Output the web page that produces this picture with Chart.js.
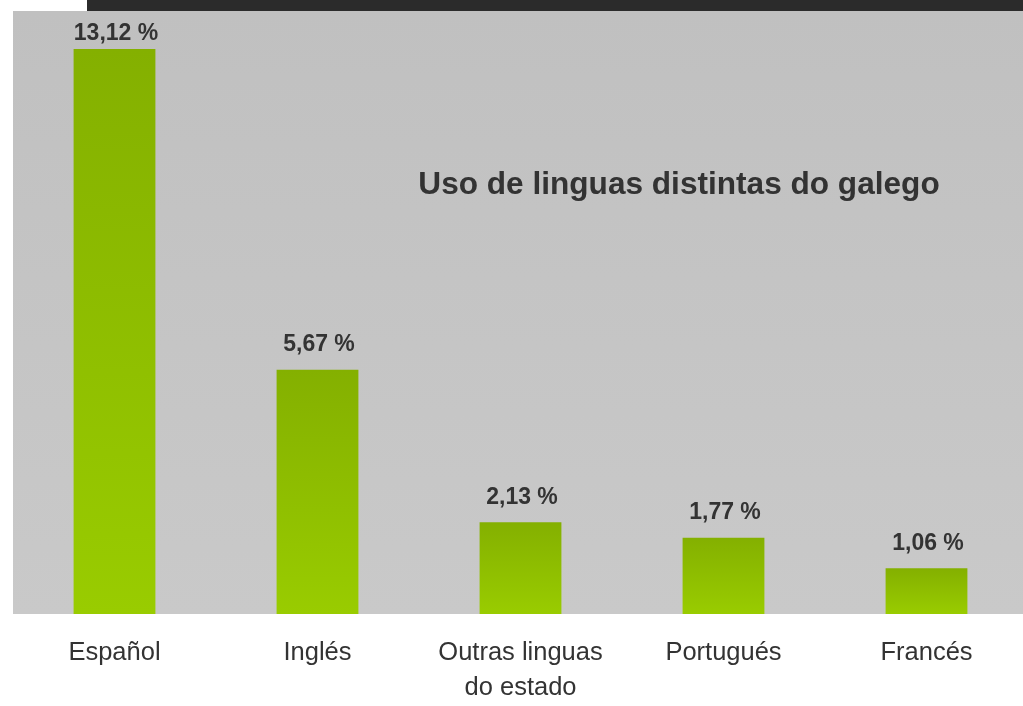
<!DOCTYPE html>
<html lang="gl">
<head>
<meta charset="UTF-8">
<title>Uso de linguas distintas do galego</title>
<style>
  html, body { margin: 0; padding: 0; background: #ffffff; }
  #wrap { position: relative; width: 1023px; height: 706px; }
</style>
</head>
<body>
<div id="wrap">
  <canvas id="myChart" width="1023" height="706"></canvas>
</div>

<script src="https://cdn.jsdelivr.net/npm/chart.js"></script>
<script>
  const v_labels = [["Español"], ["Inglés"], ["Outras linguas", "do estado"], ["Portugués"], ["Francés"]];
  const v_values = [13.12, 5.67, 2.13, 1.77, 1.06];
  const v_valueLabels = ["13,12 %", "5,67 %", "2,13 %", "1,77 %", "1,06 %"];
  const v_title = "Uso de linguas distintas do galego";
  const v_yMax = 14;

  // a zona do grafico sae un pouco pola dereita do lenzo
  const p_widen = {
    id: "p_widen",
    afterLayout(chart) {
      const x = chart.scales.x;
      x.right += 5;
      x.width += 5;
      x.configure();
    }
  };

  // fondo gris da zona do grafico + faixa escura de arriba
  const p_background = {
    id: "p_background",
    beforeDraw(chart) {
      const { ctx, chartArea } = chart;
      ctx.save();
      ctx.fillStyle = "#2b2b2b";
      ctx.fillRect(87, 0, chart.width - 87, chartArea.top);
      const g = ctx.createLinearGradient(0, chartArea.top, 0, chartArea.bottom);
      g.addColorStop(0, "#c0c0c0");
      g.addColorStop(1, "#c9c9c9");
      ctx.fillStyle = g;
      ctx.fillRect(chartArea.left, chartArea.top, chart.width - chartArea.left, chartArea.bottom - chartArea.top);
      ctx.restore();
    }
  };

  // etiquetas de valor e titulo dentro da zona
  const p_labels = {
    id: "p_labels",
    afterDatasetsDraw(chart) {
      const { ctx, chartArea } = chart;
      const meta = chart.getDatasetMeta(0);
      ctx.save();
      ctx.fillStyle = "#333333";
      ctx.textAlign = "center";
      ctx.textBaseline = "alphabetic";
      ctx.font = "bold 23px 'Liberation Sans', Arial, sans-serif";
      meta.data.forEach((bar, i) => {
        const y = Math.max(bar.y - 18.5, chartArea.top + 28.5);
        ctx.fillText(v_valueLabels[i], bar.x + 1.5, y);
      });
      ctx.font = "bold 31.6px 'Liberation Sans', Arial, sans-serif";
      ctx.fillText(v_title, 679, 194);
      ctx.restore();
    }
  };

  function f_barColor(context) {
    const chart = context.chart;
    const y = chart.scales.y;
    if (!y || !chart.chartArea) return "#99cc00";
    const top = y.getPixelForValue(context.raw);
    const bottom = y.getPixelForValue(0);
    const g = chart.ctx.createLinearGradient(0, top, 0, bottom);
    g.addColorStop(0, "#84b000");
    g.addColorStop(1, "#99cc00");
    return g;
  }

  const ctx = document.getElementById("myChart");

  new Chart(ctx, {
    type: "bar",
    data: {
      labels: v_labels,
      datasets: [{
        data: v_values,
        backgroundColor: f_barColor,
        borderWidth: 0,
        categoryPercentage: 1,
        barPercentage: 0.403
      }]
    },
    options: {
      responsive: false,
      animation: false,
      layout: { padding: { left: 13, top: 11, right: 0, bottom: 0 } },
      plugins: {
        legend: { display: false },
        tooltip: { enabled: false }
      },
      scales: {
        x: {
          grid: { display: false, drawTicks: false },
          border: { display: false },
          ticks: {
            color: "#333333",
            padding: 21,
            maxRotation: 0,
            autoSkip: false,
            font: { family: "'Liberation Sans', Arial, sans-serif", size: 25.5, lineHeight: 1.38 }
          },
          afterFit(scale) { scale.height = 92; }
        },
        y: {
          display: false,
          min: 0,
          max: v_yMax
        }
      }
    },
    plugins: [p_widen, p_background, p_labels]
  });
</script>
</body>
</html>
